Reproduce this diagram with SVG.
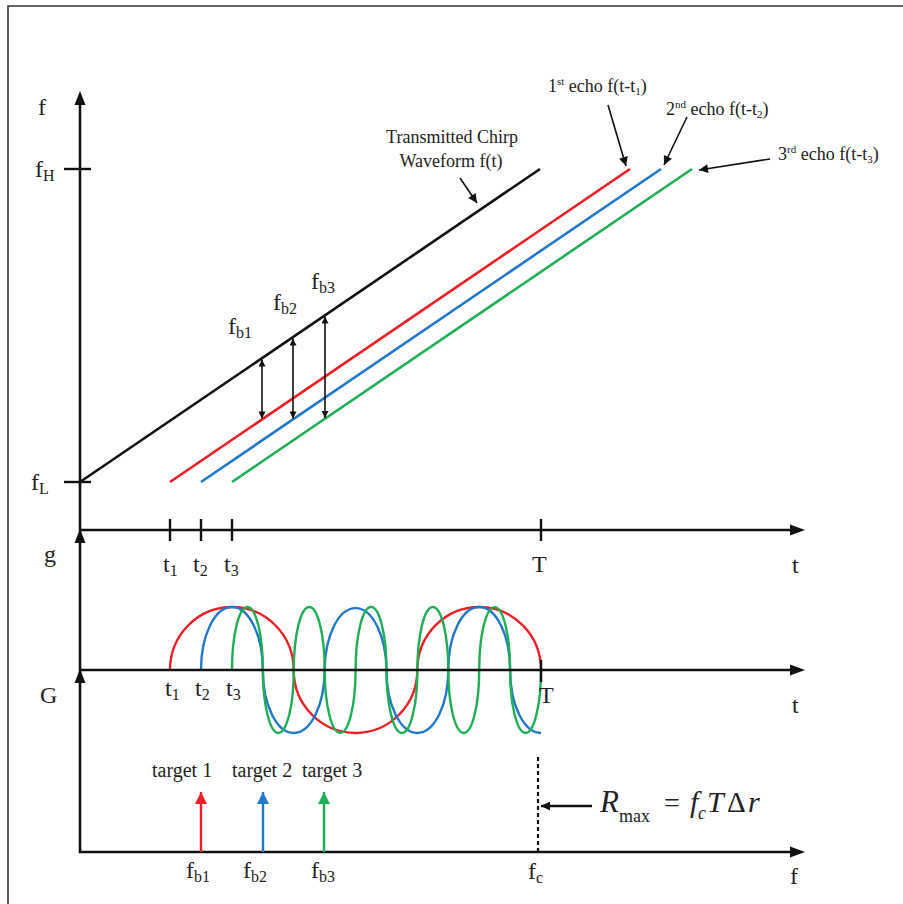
<svg xmlns="http://www.w3.org/2000/svg" width="903" height="904" viewBox="0 0 903 904">
<style>
text{font-family:"Liberation Serif","Times New Roman",serif;fill:#222}
.ax{font-size:24px}
.sub{font-size:16px}
.lb{font-size:18px}
.sm{font-size:11px}
.tg{font-size:20px}
.axis{stroke:#111;stroke-width:2.6;fill:none}
.tick{stroke:#111;stroke-width:2.4}
.chirp{stroke-width:2.6;fill:none}
.wave{stroke-width:2.4;fill:none}
.ann{stroke:#111;stroke-width:1.6;fill:none}
.ah{fill:#111}
</style>
<defs>
<marker id="mk" viewBox="0 0 10 10" refX="10" refY="5" markerWidth="10" markerHeight="9" markerUnits="userSpaceOnUse" orient="auto"><path d="M0,0 L10,5 L0,10 z" fill="#111"/></marker>
<marker id="mb" viewBox="0 0 10 10" refX="10" refY="5" markerWidth="8" markerHeight="7" markerUnits="userSpaceOnUse" orient="auto-start-reverse"><path d="M0,0 L10,5 L0,10 z" fill="#111"/></marker>
<marker id="mr" viewBox="0 0 10 10" refX="10" refY="5" markerWidth="15" markerHeight="12" markerUnits="userSpaceOnUse" orient="auto"><path d="M0,0 L10,5 L0,10 z" fill="#ee1c25"/></marker>
<marker id="mbl" viewBox="0 0 10 10" refX="10" refY="5" markerWidth="15" markerHeight="12" markerUnits="userSpaceOnUse" orient="auto"><path d="M0,0 L10,5 L0,10 z" fill="#1f78c8"/></marker>
<marker id="mg" viewBox="0 0 10 10" refX="10" refY="5" markerWidth="15" markerHeight="12" markerUnits="userSpaceOnUse" orient="auto"><path d="M0,0 L10,5 L0,10 z" fill="#1fae55"/></marker>
</defs>
<rect width="903" height="904" fill="#fff"/>
<path d="M8,904 V6 H903" stroke="#333" stroke-width="1.6" fill="none"/>

<g id="waveforms">
<path class="wave" stroke="#ee1c25" d="M170,670 A61.83,63 0 0 1 293.67,670 A61.83,63 0 0 0 417.33,670 A61.83,63 0 0 1 541,670"/>
<path class="wave" stroke="#1f78c8" d="M201,670 A30.91,63 0 0 1 262.82,670 A30.91,63 0 0 0 324.64,670 A30.91,63 0 0 1 386.45,670 A30.91,63 0 0 0 448.27,670 A30.91,63 0 0 1 510.09,670 A30.91,63 0 0 0 541,733"/>
<path class="wave" stroke="#1fae55" d="M232,670 A15.45,63 0 0 1 262.9,670 A15.45,63 0 0 0 293.8,670 A15.45,63 0 0 1 324.7,670 A15.45,63 0 0 0 355.6,670 A15.45,63 0 0 1 386.5,670 A15.45,63 0 0 0 417.4,670 A15.45,63 0 0 1 448.3,670 A15.45,63 0 0 0 479.2,670 A15.45,63 0 0 1 510.1,670 A15.45,63 0 0 0 541,670"/>
</g>

<g id="axes">
<line class="axis" x1="80" y1="100" x2="80" y2="853"/>
<polygon class="ah" points="80,91 74.5,105 85.5,105"/>
<polygon class="ah" points="80,529 74.5,543 85.5,543"/>
<polygon class="ah" points="80,669 74.5,683 85.5,683"/>
<line class="axis" x1="79" y1="530" x2="795" y2="530"/>
<polygon class="ah" points="805,530 790,524.5 790,535.5"/>
<line class="axis" x1="79" y1="670" x2="795" y2="670"/>
<polygon class="ah" points="805,670 790,664.5 790,675.5"/>
<line class="axis" x1="79" y1="852" x2="795" y2="852"/>
<polygon class="ah" points="805,852 790,846.5 790,857.5"/>
<line class="tick" x1="64" y1="169" x2="91" y2="169"/>
<line class="tick" x1="64" y1="482" x2="91" y2="482"/>
<line class="tick" x1="170" y1="519" x2="170" y2="541"/>
<line class="tick" x1="201" y1="519" x2="201" y2="541"/>
<line class="tick" x1="232" y1="519" x2="232" y2="541"/>
<line class="tick" x1="541" y1="519" x2="541" y2="541"/>
<line class="tick" x1="541" y1="660" x2="541" y2="682"/>
<line x1="538" y1="757" x2="538" y2="852" stroke="#111" stroke-width="2.2" stroke-dasharray="4 3"/>
</g>

<g id="chirps">
<line class="chirp" stroke="#111" x1="80" y1="482" x2="540" y2="169"/>
<line class="chirp" stroke="#ee1c25" x1="170" y1="482" x2="630" y2="169"/>
<line class="chirp" stroke="#1f78c8" x1="201" y1="482" x2="661" y2="169"/>
<line class="chirp" stroke="#1fae55" x1="232" y1="482" x2="692" y2="169"/>
</g>

<g id="connectors">
<line class="ann" x1="262" y1="359.5" x2="262" y2="418.5" marker-start="url(#mb)" marker-end="url(#mb)"/>
<line class="ann" x1="293" y1="338.5" x2="293" y2="418.5" marker-start="url(#mb)" marker-end="url(#mb)"/>
<line class="ann" x1="325" y1="316.5" x2="325" y2="418" marker-start="url(#mb)" marker-end="url(#mb)"/>
<line class="ann" x1="460" y1="178" x2="477" y2="203" marker-end="url(#mk)"/>
<line class="ann" x1="608" y1="105" x2="626" y2="166" marker-end="url(#mk)"/>
<line class="ann" x1="687" y1="117" x2="664" y2="165" marker-end="url(#mk)"/>
<line class="ann" x1="770" y1="159" x2="699" y2="170" marker-end="url(#mk)"/>
<line x1="201" y1="852" x2="201" y2="792" stroke="#ee1c25" stroke-width="2.4" marker-end="url(#mr)"/>
<line x1="263" y1="852" x2="263" y2="792" stroke="#1f78c8" stroke-width="2.4" marker-end="url(#mbl)"/>
<line x1="324" y1="852" x2="324" y2="792" stroke="#1fae55" stroke-width="2.4" marker-end="url(#mg)"/>
<line x1="592" y1="806" x2="541" y2="806" stroke="#111" stroke-width="2.4" marker-end="url(#mk)"/>
</g>

<g id="labels">
<text class="ax" x="38" y="115">f</text>
<text class="ax" x="35" y="177">f<tspan class="sub" dy="4">H</tspan></text>
<text class="ax" x="31" y="490">f<tspan class="sub" dy="4">L</tspan></text>
<text class="ax" x="44" y="562">g</text>
<text class="ax" x="40" y="703">G</text>
<text class="ax" x="163" y="572">t<tspan class="sub" dy="4">1</tspan></text>
<text class="ax" x="193" y="572">t<tspan class="sub" dy="4">2</tspan></text>
<text class="ax" x="224" y="572">t<tspan class="sub" dy="4">3</tspan></text>
<text class="ax" x="532" y="572">T</text>
<text class="ax" x="792" y="573">t</text>
<text class="ax" x="165" y="696">t<tspan class="sub" dy="4">1</tspan></text>
<text class="ax" x="195" y="696">t<tspan class="sub" dy="4">2</tspan></text>
<text class="ax" x="226" y="696">t<tspan class="sub" dy="4">3</tspan></text>
<text class="ax" x="539" y="703">T</text>
<text class="ax" x="792" y="713">t</text>
<text class="ax" x="228" y="334">f<tspan class="sub" dy="4">b1</tspan></text>
<text class="ax" x="273" y="310">f<tspan class="sub" dy="4">b2</tspan></text>
<text class="ax" x="311" y="289">f<tspan class="sub" dy="4">b3</tspan></text>
<text class="lb" x="452" y="143" text-anchor="middle">Transmitted Chirp</text>
<text class="lb" x="451" y="167" text-anchor="middle">Waveform f(t)</text>
<text class="lb" x="548" y="92">1<tspan class="sm" dy="-7">st</tspan><tspan dy="7"> echo f(t-t</tspan><tspan class="sm" dy="3">1</tspan><tspan dy="-3">)</tspan></text>
<text class="lb" x="666" y="115">2<tspan class="sm" dy="-7">nd</tspan><tspan dy="7"> echo f(t-t</tspan><tspan class="sm" dy="3">2</tspan><tspan dy="-3">)</tspan></text>
<text class="lb" x="778" y="160">3<tspan class="sm" dy="-7">rd</tspan><tspan dy="7"> echo f(t-t</tspan><tspan class="sm" dy="3">3</tspan><tspan dy="-3">)</tspan></text>
<text class="tg" x="152" y="777">target 1</text>
<text class="tg" x="232" y="777">target 2</text>
<text class="tg" x="302" y="777">target 3</text>
<text class="ax" x="186" y="878">f<tspan class="sub" dy="4">b1</tspan></text>
<text class="ax" x="243" y="878">f<tspan class="sub" dy="4">b2</tspan></text>
<text class="ax" x="311" y="878">f<tspan class="sub" dy="4">b3</tspan></text>
<text class="ax" x="528" y="879">f<tspan class="sub" dy="4">c</tspan></text>
<text class="ax" x="790" y="884">f</text>
<text x="600" y="812" font-size="31" font-style="italic">R</text>
<text x="619" y="822" font-size="18">max</text>
<text x="664" y="812" font-size="28">=</text>
<text x="690" y="812" font-size="30" font-style="italic">f</text>
<text x="698" y="819" font-size="18" font-style="italic">c</text>
<text x="707" y="812" font-size="30" font-style="italic">T</text>
<text x="727" y="812" font-size="29">Δ</text>
<text x="748" y="812" font-size="30" font-style="italic">r</text>
</g>
</svg>
